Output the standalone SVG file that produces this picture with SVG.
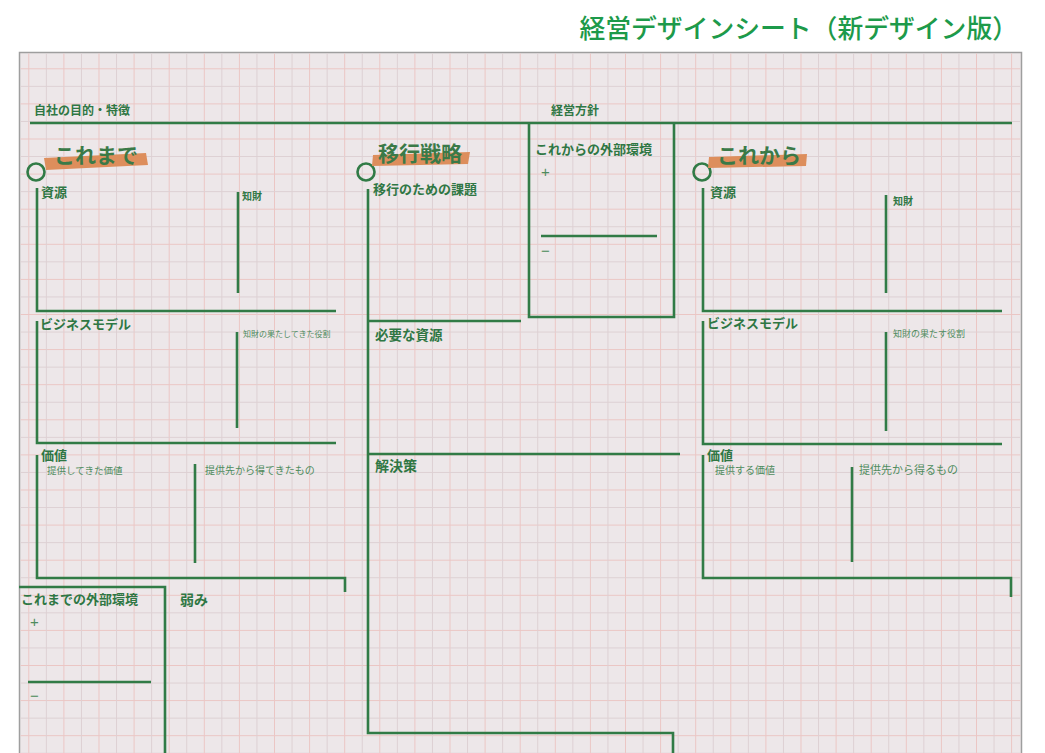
<svg xmlns="http://www.w3.org/2000/svg" width="1045" height="753" viewBox="0 0 1045 753">
<defs>
<pattern id="grid" patternUnits="userSpaceOnUse" x="28.3" y="68.3" width="35.1" height="35.1">
<path d="M0.5,0 V35.1 M0,0.5 H35.1" stroke="#ebc6c4" stroke-width="1" fill="none"/>
<path d="M18.05,0 V35.1 M0,18.05 H35.1" stroke="#ddd0d3" stroke-width="1" fill="none"/>
</pattern>
<style>
.ln{stroke:#317b46;stroke-width:2.6;fill:none;stroke-linecap:butt;stroke-linejoin:miter}
.t{font-family:"Noto Sans CJK JP","Noto Sans",sans-serif;font-weight:700;fill:#2f7744}
.s{font-family:"Noto Sans CJK JP","Noto Sans",sans-serif;font-weight:400;fill:#4f8c5e}
.big{font-family:"Noto Sans CJK JP","Noto Sans",sans-serif;font-weight:700;fill:#3a7a48;font-size:21px}
.brush{fill:#dd8e5c}
.pm{font-family:"Liberation Sans",sans-serif;font-size:15px;fill:#4f8c5e}
</style>
</defs>
<rect width="1045" height="753" fill="#ffffff"/>
<text x="1018" y="38" text-anchor="end" font-family="Noto Sans CJK JP, sans-serif" font-size="25.8" font-weight="500" fill="#1d9a4a">経営デザインシート（新デザイン版）</text>
<g id="sheet">
<rect x="19.5" y="52.5" width="1002" height="720" fill="#ede7e9" stroke="#9e9e9e" stroke-width="1.5"/>
<rect x="20.5" y="53.5" width="1000" height="700" fill="url(#grid)"/>
</g>
<g id="header">
<text class="t" x="34" y="115" font-size="12">自社の目的・特徴</text>
<text class="t" x="551" y="115" font-size="12">経営方針</text>
</g>
<g id="connectors">
<path class="ln" d="M30,123 H1012"/>
<path class="ln" d="M37,188 V311 H336"/>
<path class="ln" d="M238,192 V293"/>
<path class="ln" d="M37,321 V443 H336"/>
<path class="ln" d="M237,332 V428"/>
<path class="ln" d="M37,455 V578 H345 V592"/>
<path class="ln" d="M195,464 V563"/>
<path class="ln" d="M19,587 H165 V753"/>
<path class="ln" d="M28,682 H151"/>
<path class="ln" d="M368,189 V733 H673 V753"/>
<path class="ln" d="M368,321 H521"/>
<path class="ln" d="M368,454 H680"/>
<path class="ln" d="M529,123 V317 H674 V123"/>
<path class="ln" d="M541,236 H657"/>
<path class="ln" d="M703,188 V311 H1002"/>
<path class="ln" d="M886,195 V293"/>
<path class="ln" d="M703,321 V444 H1002"/>
<path class="ln" d="M886,332 V431"/>
<path class="ln" d="M703,455 V578 H1011 V597"/>
<path class="ln" d="M852,467 V562"/>
</g>
<g id="koremade">
<circle class="ln" cx="36" cy="172" r="8.5"/>
<polygon class="brush" points="44,158 146,153 148,165 46,170"/>
<text class="big" x="54" y="163">これまで</text>
<text class="t" x="41" y="197" font-size="13">資源</text>
<text class="t" x="242" y="200" font-size="10">知財</text>
<text class="t" x="40" y="329" font-size="13">ビジネスモデル</text>
<text class="s" x="243" y="337" font-size="8">知財の果たしてきた役割</text>
<text class="t" x="41" y="460" font-size="13">価値</text>
<text class="s" x="47" y="474" font-size="9.5">提供してきた価値</text>
<text class="s" x="205" y="474" font-size="10">提供先から得てきたもの</text>
</g>
<g id="past-env">
<text class="t" x="21" y="604" font-size="13">これまでの外部環境</text>
<text class="pm" x="30" y="627">+</text>
<text class="pm" x="30" y="701">−</text>
</g>
<g id="weakness">
<text class="t" x="180" y="605" font-size="14">弱み</text>
</g>
<g id="transition">
<circle class="ln" cx="366" cy="172" r="8.5"/>
<polygon class="brush" points="373,155 470,152 468,164 372,166"/>
<text class="big" x="378" y="161">移行戦略</text>
<text class="t" x="373" y="194" font-size="13">移行のための課題</text>
<text class="t" x="375" y="340" font-size="13.5">必要な資源</text>
<text class="t" x="375" y="471" font-size="14">解決策</text>
</g>
<g id="future-env">
<text class="t" x="535" y="154" font-size="13">これからの外部環境</text>
<text class="pm" x="541" y="177">+</text>
<text class="pm" x="541" y="256">−</text>
</g>
<g id="korekara">
<circle class="ln" cx="702" cy="172" r="8.5"/>
<polygon class="brush" points="709,157 807,154 806,166 708,168"/>
<text class="big" x="717" y="163">これから</text>
<text class="t" x="710" y="197" font-size="13">資源</text>
<text class="t" x="893" y="205" font-size="10">知財</text>
<text class="t" x="707" y="328" font-size="13">ビジネスモデル</text>
<text class="s" x="893" y="337" font-size="9">知財の果たす役割</text>
<text class="t" x="707" y="460" font-size="13">価値</text>
<text class="s" x="715" y="474" font-size="10">提供する価値</text>
<text class="s" x="859" y="474" font-size="11">提供先から得るもの</text>
</g>
</svg>
